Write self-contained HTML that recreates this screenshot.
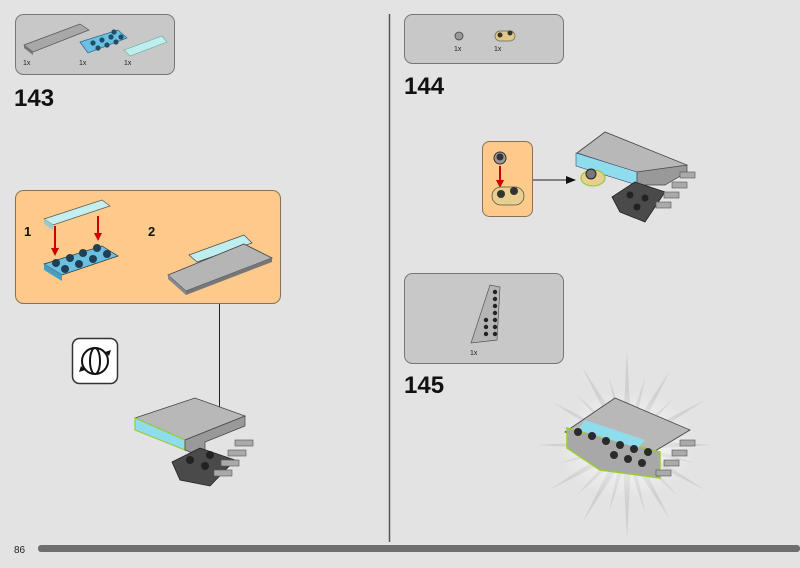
<!DOCTYPE html>
<html><head><meta charset="utf-8"><style>
html,body{margin:0;padding:0;background:#e3e3e3;}
svg{display:block;font-family:"Liberation Sans",sans-serif;}
</style></head><body>
<svg width="800" height="568" viewBox="0 0 800 568" xmlns="http://www.w3.org/2000/svg">
<defs>
<polygon id="ray" points="-5,0 5,0 0,-100" fill="#d0d0d0"/>
<radialGradient id="glow" cx="0.5" cy="0.5" r="0.5"><stop offset="0" stop-color="#fff" stop-opacity="0.9"/><stop offset="1" stop-color="#fff" stop-opacity="0"/></radialGradient>
</defs>
<rect width="800" height="568" fill="#e3e3e3"/>
<line x1="389.5" y1="14" x2="389.5" y2="542" stroke="#555" stroke-width="1.5"/>
<rect x="38" y="545" width="762" height="7" rx="3" fill="#6e6e6e"/>
<text x="14" y="553" font-size="10" fill="#222">86</text>

<!-- 143 parts box -->
<rect x="15.5" y="14.5" width="159" height="60" rx="8" fill="#c8c8c8" stroke="#777"/>
<polygon points="24,45 80,24 89,30 33,52" fill="#a8a8a8" stroke="#555" stroke-width="0.7"/>
<polygon points="24,45 33,52 33,55 24,48" fill="#777"/>
<polygon points="80,42 118,30 127,38 88,53" fill="#6bbfe0" stroke="#2a6a88" stroke-width="0.7"/>
<g fill="#1f4f66"><circle cx="93" cy="43" r="2.6"/><circle cx="102" cy="40" r="2.6"/><circle cx="111" cy="37" r="2.6"/><circle cx="114" cy="32" r="2.6"/><circle cx="98" cy="48" r="2.6"/><circle cx="107" cy="45" r="2.6"/><circle cx="116" cy="42" r="2.6"/><circle cx="121" cy="37" r="2.6"/></g>
<polygon points="124,50 162,36 167,42 130,56" fill="#bfeeee" stroke="#6a9" stroke-width="0.6"/>
<text x="23" y="65" font-size="7" fill="#222">1x</text>
<text x="79" y="65" font-size="7" fill="#222">1x</text>
<text x="124" y="65" font-size="7" fill="#222">1x</text>
<text x="14" y="106" font-size="24" font-weight="bold" fill="#111">143</text>

<!-- orange sub-assembly -->
<rect x="15.5" y="190.5" width="265" height="113" rx="8" fill="#fdca8b" stroke="#8a7050"/>
<text x="24" y="236" font-size="13" font-weight="bold" fill="#111">1</text>
<text x="148" y="236" font-size="13" font-weight="bold" fill="#111">2</text>
<polygon points="44,219 102,200 110,206 53,225" fill="#c5eeee" stroke="#555" stroke-width="0.7"/>
<polygon points="44,219 53,225 53,230 44,224" fill="#9cc"/>
<polygon points="44,264 102,246 118,256 62,275" fill="#6bbfe0" stroke="#333" stroke-width="0.7"/>
<polygon points="44,264 62,275 62,281 44,270" fill="#4a9dc0"/>
<g fill="#1f3f55"><circle cx="56" cy="263" r="4"/><circle cx="70" cy="258" r="4"/><circle cx="83" cy="253" r="4"/><circle cx="97" cy="248" r="4"/><circle cx="65" cy="269" r="4"/><circle cx="79" cy="264" r="4"/><circle cx="93" cy="259" r="4"/><circle cx="107" cy="254" r="4"/></g>
<line x1="55" y1="226" x2="55" y2="250" stroke="#c00" stroke-width="2"/><polygon points="51,248 59,248 55,256" fill="#c00"/>
<line x1="98" y1="216" x2="98" y2="235" stroke="#c00" stroke-width="2"/><polygon points="94,233 102,233 98,241" fill="#c00"/>
<polygon points="189,255 244,235 252,243 197,262" fill="#bfeeee" stroke="#444" stroke-width="0.7"/>
<polygon points="168,275 244,244 272,258 186,291" fill="#b5b5b5" stroke="#444" stroke-width="0.8"/>
<polygon points="168,275 186,291 186,295 168,279" fill="#888"/>
<polygon points="186,291 272,258 272,262 186,295" fill="#777"/>
<line x1="219.5" y1="304" x2="219.5" y2="410" stroke="#222" stroke-width="1"/>
<polygon points="215,408 224,408 219.5,418" fill="#111"/>

<!-- rotate icon -->
<rect x="72.5" y="338.5" width="45" height="45" rx="7" fill="#fff" stroke="#333" stroke-width="1.5"/>
<ellipse cx="95" cy="361" rx="13" ry="13" fill="none" stroke="#111" stroke-width="2"/>
<ellipse cx="95" cy="361" rx="5" ry="13" fill="none" stroke="#111" stroke-width="2"/>
<polygon points="105,352 111,350 109,356" fill="#111"/>
<polygon points="85,370 79,372 81,366" fill="#111"/>

<!-- 143 result -->
<polygon points="135,418 195,398 245,416 185,440" fill="#b8b8b8" stroke="#444" stroke-width="0.8"/>
<polygon points="135,418 185,440 185,450 135,430" fill="#8fdcec" stroke="#9c3" stroke-width="1.2"/>
<polygon points="185,440 245,416 245,426 205,442 205,458 185,450" fill="#999" stroke="#444" stroke-width="0.7"/>
<polygon points="172,462 200,448 235,460 210,486 180,480" fill="#4a4a4a" stroke="#222" stroke-width="0.8"/>
<g fill="#222"><circle cx="190" cy="460" r="4"/><circle cx="205" cy="466" r="4"/><circle cx="210" cy="455" r="4"/></g>
<g fill="#aaa" stroke="#555" stroke-width="0.6"><rect x="235" y="440" width="18" height="6"/><rect x="228" y="450" width="18" height="6"/><rect x="221" y="460" width="18" height="6"/><rect x="214" y="470" width="18" height="6"/></g>

<!-- 144 parts -->
<rect x="404.5" y="14.5" width="159" height="49" rx="8" fill="#c8c8c8" stroke="#777"/>
<circle cx="459" cy="36" r="4" fill="#999" stroke="#444" stroke-width="0.8"/>
<rect x="495" y="31" width="20" height="10" rx="5" fill="#e0c88a" stroke="#665" stroke-width="0.7"/>
<circle cx="500" cy="35" r="2.5" fill="#333"/><circle cx="510" cy="33" r="2.5" fill="#333"/>
<text x="454" y="51" font-size="7" fill="#222">1x</text>
<text x="494" y="51" font-size="7" fill="#222">1x</text>
<text x="404" y="94" font-size="24" font-weight="bold" fill="#111">144</text>

<rect x="482.5" y="141.5" width="50" height="75" rx="7" fill="#fdca8b" stroke="#8a7050"/>
<circle cx="500" cy="158" r="6" fill="#999" stroke="#333"/>
<circle cx="500" cy="157" r="3.5" fill="#333"/>
<line x1="500" y1="166" x2="500" y2="182" stroke="#c00" stroke-width="2"/><polygon points="496,180 504,180 500,188" fill="#c00"/>
<rect x="492" y="187" width="32" height="18" rx="9" fill="#e8cf90" stroke="#554" stroke-width="0.8"/>
<circle cx="501" cy="194" r="4" fill="#333"/><circle cx="514" cy="191" r="4" fill="#333"/>
<line x1="533" y1="180" x2="568" y2="180" stroke="#222"/><polygon points="566,176 576,180 566,184" fill="#111"/>
<polygon points="577,153 605,132 687,165 660,180" fill="#b8b8b8" stroke="#444" stroke-width="0.8"/>
<polygon points="576,153 637,172 637,185 576,166" fill="#8fdcec" stroke="#447" stroke-width="0.6"/>
<polygon points="637,172 687,165 687,172 665,185 637,185" fill="#999" stroke="#444" stroke-width="0.7"/>
<polygon points="612,197 635,182 665,192 645,222 620,212" fill="#4a4a4a" stroke="#222" stroke-width="0.8"/>
<g fill="#222"><circle cx="630" cy="195" r="3.5"/><circle cx="645" cy="198" r="3.5"/><circle cx="637" cy="207" r="3.5"/></g>
<ellipse cx="593" cy="178" rx="12" ry="8" fill="#e8cf90" stroke="#9c3" stroke-width="1.2"/>
<circle cx="591" cy="174" r="5" fill="#777" stroke="#222"/>
<g fill="#aaa" stroke="#555" stroke-width="0.6"><rect x="680" y="172" width="15" height="6"/><rect x="672" y="182" width="15" height="6"/><rect x="664" y="192" width="15" height="6"/><rect x="656" y="202" width="15" height="6"/></g>

<!-- 145 parts -->
<rect x="404.5" y="273.5" width="159" height="90" rx="8" fill="#c8c8c8" stroke="#777"/>
<polygon points="471,343 490,285 500,287 497,340" fill="#b5b5b5" stroke="#555" stroke-width="0.7"/>
<g fill="#222"><circle cx="495" cy="292" r="2.2"/><circle cx="495" cy="299" r="2.2"/><circle cx="495" cy="306" r="2.2"/><circle cx="495" cy="313" r="2.2"/><circle cx="495" cy="320" r="2.2"/><circle cx="495" cy="327" r="2.2"/><circle cx="486" cy="320" r="2.2"/><circle cx="486" cy="327" r="2.2"/><circle cx="486" cy="334" r="2.2"/><circle cx="495" cy="334" r="2.2"/></g>
<text x="470" y="355" font-size="7" fill="#222">1x</text>
<text x="404" y="393" font-size="24" font-weight="bold" fill="#111">145</text>

<!-- burst -->
<g transform="translate(627,445)">
<use href="#ray" transform="rotate(0) scale(1,0.95)"/>
<use href="#ray" transform="rotate(15) scale(0.8,0.7)"/>
<use href="#ray" transform="rotate(30) scale(1,0.85)"/>
<use href="#ray" transform="rotate(45) scale(0.8,0.65)"/>
<use href="#ray" transform="rotate(60) scale(1,0.9)"/>
<use href="#ray" transform="rotate(75) scale(0.8,0.7)"/>
<use href="#ray" transform="rotate(90) scale(1,0.85)"/>
<use href="#ray" transform="rotate(105) scale(0.8,0.7)"/>
<use href="#ray" transform="rotate(120) scale(1,0.9)"/>
<use href="#ray" transform="rotate(135) scale(0.8,0.7)"/>
<use href="#ray" transform="rotate(150) scale(1,0.85)"/>
<use href="#ray" transform="rotate(165) scale(0.8,0.7)"/>
<use href="#ray" transform="rotate(180) scale(1,0.95)"/>
<use href="#ray" transform="rotate(195) scale(0.8,0.7)"/>
<use href="#ray" transform="rotate(210) scale(1,0.9)"/>
<use href="#ray" transform="rotate(225) scale(0.8,0.7)"/>
<use href="#ray" transform="rotate(240) scale(1,0.9)"/>
<use href="#ray" transform="rotate(255) scale(0.8,0.7)"/>
<use href="#ray" transform="rotate(270) scale(1,0.9)"/>
<use href="#ray" transform="rotate(285) scale(0.8,0.7)"/>
<use href="#ray" transform="rotate(300) scale(1,0.85)"/>
<use href="#ray" transform="rotate(315) scale(0.8,0.7)"/>
<use href="#ray" transform="rotate(330) scale(1,0.9)"/>
<use href="#ray" transform="rotate(345) scale(0.8,0.7)"/>
<ellipse cx="0" cy="0" rx="70" ry="55" fill="url(#glow)"/>
</g>
<polygon points="565,432 615,398 690,430 640,460" fill="#b8b8b8" stroke="#444" stroke-width="0.8"/>
<polygon points="567,428 660,452 660,478 600,470 567,448" fill="#a8a8a8" stroke="#9c3" stroke-width="1.5"/>
<polygon points="585,420 645,440 638,448 578,430" fill="#8fdcec"/>
<g fill="#2a2a2a"><circle cx="578" cy="432" r="4"/><circle cx="592" cy="436" r="4"/><circle cx="606" cy="441" r="4"/><circle cx="620" cy="445" r="4"/><circle cx="634" cy="449" r="4"/><circle cx="614" cy="455" r="4"/><circle cx="628" cy="459" r="4"/><circle cx="642" cy="463" r="4"/><circle cx="648" cy="452" r="4"/></g>
<g fill="#aaa" stroke="#555" stroke-width="0.6"><rect x="680" y="440" width="15" height="6"/><rect x="672" y="450" width="15" height="6"/><rect x="664" y="460" width="15" height="6"/><rect x="656" y="470" width="15" height="6"/></g>
</svg>
</body></html>
